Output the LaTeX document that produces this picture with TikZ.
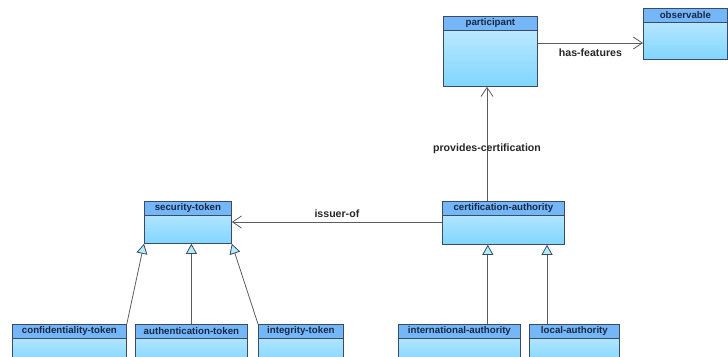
\documentclass[tikz,border=0pt]{standalone}
\usepackage{fontspec}
\setmainfont{Liberation Sans}
\usetikzlibrary{arrows.meta}

\definecolor{classline}{HTML}{3C4A66}
\definecolor{headblue}{HTML}{74B6F6}
\definecolor{bodytop}{HTML}{C8ECFF}
\definecolor{bodybot}{HTML}{80D6FF}
\definecolor{headtext}{HTML}{1A2848}
\definecolor{linegray}{HTML}{5C5C5C}
\definecolor{tipfill}{HTML}{B4ECFA}

\tikzset{
  classbody/.style={draw=classline, line width=0.8pt, top color=bodytop,
    bottom color=bodybot, inner sep=0pt, anchor=north west},
  classhead/.style={draw=classline, line width=0.8pt, fill=headblue,
    inner sep=0pt, minimum height=13.5pt, anchor=north, text=headtext,
    font=\fontsize{9.7}{10}\selectfont\bfseries},
  assoc/.style={draw=linegray, line width=0.8pt,
    -{Straight Barb[length=9pt,width=12pt]}},
  gen/.style={draw=linegray, line width=0.8pt,
    -{Triangle[open,length=10pt,width=11pt,fill=tipfill,color=classline]}},
  rolelabel/.style={font=\fontsize{10.6}{11}\selectfont\bfseries, text=black!85}
}

\begin{document}
\begin{tikzpicture}[x=1pt,y=-1pt]
\useasboundingbox (0,0) rectangle (728,356);
\clip (0,0) rectangle (728,356);

% classes: name/title/left/top/width/height
\foreach \name/\title/\x/\y/\w/\h in {
    participant/participant/443/16/94/70,
    observable/observable/643/8/84/51,
    security/security-token/144/201/87/42,
    cert/certification-authority/442/201/122/43,
    conf/confidentiality-token/12/324/114/40,
    auth/authentication-token/135/324/112/40,
    integ/integrity-token/258/324/85/40,
    inter/international-authority/398/324/122/40,
    local/local-authority/529/324/90/40} {
  \node[classbody, minimum width=\w pt, minimum height=\h pt] (\name) at (\x,\y) {};
  \node[classhead, minimum width=\w pt] (\name head) at (\name.north) {\title};
}

% associations
\draw[assoc] ([yshift=-27pt]participant.north east)
  -- ([yshift=-27pt]participant.north east -| observable.west)
  node[rolelabel, midway, below=2pt] {has-features};
\draw[assoc] ([xshift=45pt]cert.north west)
  -- ([xshift=45pt]cert.north west |- participant.south)
  node[rolelabel, pos=0.46] {provides-certification};
\draw[assoc] ([yshift=-21pt]cert.north west)
  -- ([yshift=-21pt]cert.north west -| security.east)
  node[rolelabel, midway, above=1pt] {issuer-of};

% generalizations
\draw[gen] (conf.north east) -- (security.south west);
\draw[gen] (auth.north) -- (auth.north |- security.south);
\draw[gen] (integ.north west) -- (security.south east);
\draw[gen] ([xshift=-33pt]inter.north east) -- ([xshift=-33pt]inter.north east |- cert.south);
\draw[gen] ([xshift=18pt]local.north west) -- ([xshift=18pt]local.north west |- cert.south);
\end{tikzpicture}
\end{document}
